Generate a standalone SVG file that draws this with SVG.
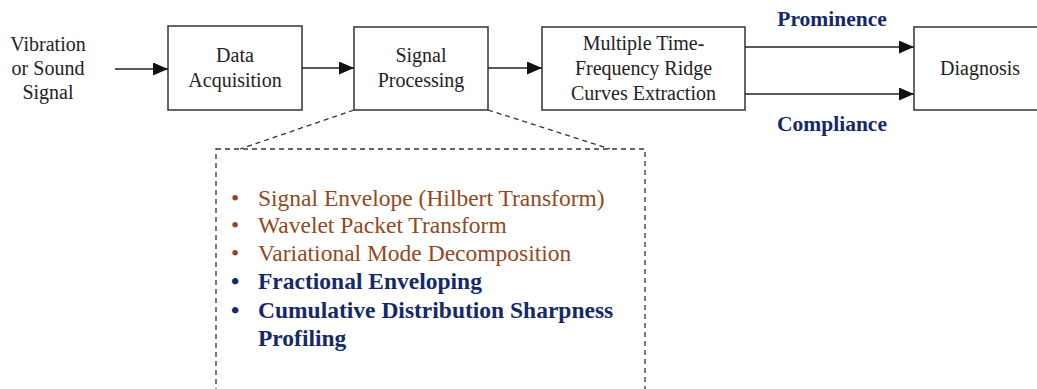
<svg xmlns="http://www.w3.org/2000/svg" width="1037" height="389" viewBox="0 0 1037 389">
<defs>
<style>
.box{fill:#fff;stroke:#333;stroke-width:1.5}
.t{font-family:"Liberation Serif","Times New Roman",serif;font-size:20px;fill:#222;text-anchor:middle}
.lbl{font-family:"Liberation Serif","Times New Roman",serif;font-size:21.5px;font-weight:bold;fill:#13296b;text-anchor:middle}
.c{stroke:#222;stroke-width:1.5;fill:none}
.d{stroke:#333;stroke-width:1.3;fill:none;stroke-dasharray:5,4}
.br{font-family:"Liberation Serif","Times New Roman",serif;font-size:23.5px;fill:#94481d}
.bl{font-family:"Liberation Serif","Times New Roman",serif;font-size:23.5px;font-weight:bold;fill:#13296b}
</style>
<marker id="ah" markerWidth="15" markerHeight="13" refX="15" refY="6.5" orient="auto" markerUnits="userSpaceOnUse">
<path d="M0,0 L15,6.5 L0,13 Z" fill="#111"/>
</marker>
</defs>
<g id="input">
<text class="t" x="48" y="51">Vibration</text>
<text class="t" x="48" y="75">or Sound</text>
<text class="t" x="48" y="99">Signal</text>
</g>
<g id="data-acquisition">
<rect class="box" x="168" y="26" width="134" height="84"/>
<text class="t" x="235" y="62">Data</text>
<text class="t" x="235" y="87">Acquisition</text>
</g>
<g id="signal-processing">
<rect class="box" x="354" y="27" width="134" height="83"/>
<text class="t" x="421" y="62">Signal</text>
<text class="t" x="421" y="87">Processing</text>
</g>
<g id="ridge-extraction">
<rect class="box" x="542" y="27" width="203" height="83"/>
<text class="t" x="643.5" y="50">Multiple Time-</text>
<text class="t" x="643.5" y="75">Frequency Ridge</text>
<text class="t" x="643.5" y="100">Curves Extraction</text>
</g>
<g id="diagnosis">
<rect class="box" x="914" y="27" width="130" height="83"/>
<text class="t" x="980" y="75">Diagnosis</text>
</g>
<g id="methods">
<rect class="d" x="216" y="149" width="429" height="260"/>
<text class="br"><tspan x="231" y="206">•</tspan><tspan x="258" y="206">Signal Envelope (Hilbert Transform)</tspan></text>
<text class="br"><tspan x="231" y="233">•</tspan><tspan x="258" y="233">Wavelet Packet Transform</tspan></text>
<text class="br"><tspan x="231" y="261">•</tspan><tspan x="258" y="261">Variational Mode Decomposition</tspan></text>
<text class="bl"><tspan x="231" y="289">•</tspan><tspan x="258" y="289">Fractional Enveloping</tspan></text>
<text class="bl"><tspan x="231" y="318">•</tspan><tspan x="258" y="318">Cumulative Distribution Sharpness</tspan></text>
<text class="bl"><tspan x="258" y="346">Profiling</tspan></text>
</g>
<g id="connectors">
<line class="c" x1="115" y1="69" x2="168" y2="69" marker-end="url(#ah)"/>
<line class="c" x1="302" y1="68" x2="354" y2="68" marker-end="url(#ah)"/>
<line class="c" x1="488" y1="68" x2="542" y2="68" marker-end="url(#ah)"/>
<line class="c" x1="745" y1="47" x2="914" y2="47" marker-end="url(#ah)"/>
<line class="c" x1="745" y1="94" x2="914" y2="94" marker-end="url(#ah)"/>
<line class="d" x1="354" y1="110" x2="240" y2="149"/>
<line class="d" x1="488" y1="110" x2="610" y2="149"/>
<text class="lbl" x="832" y="26">Prominence</text>
<text class="lbl" x="832" y="131">Compliance</text>
</g>
</svg>
